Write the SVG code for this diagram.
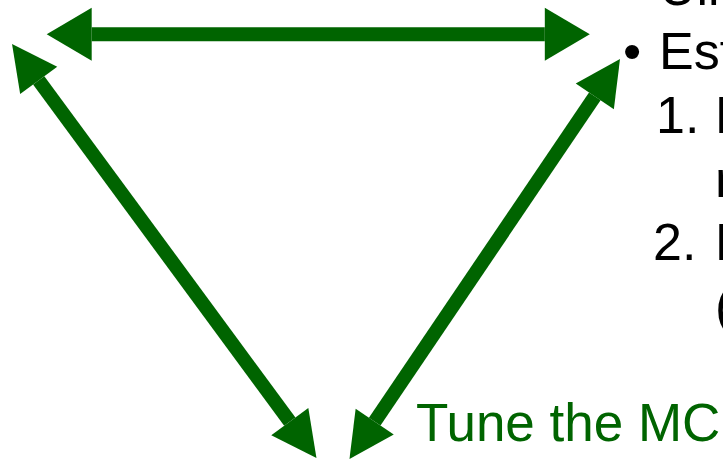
<svg xmlns="http://www.w3.org/2000/svg" width="723" height="459" viewBox="0 0 723 459">
  <style>
    .conn { stroke: #006400; stroke-width: 14; fill: none; }
    .txt { font-family: "Liberation Sans", Arial, sans-serif; font-size: 52px; fill: #000000; }
    .green { fill: #006400; font-size: 53px; }
  </style>
  <defs>
    <marker id="head" markerUnits="userSpaceOnUse" orient="auto-start-reverse" overflow="visible" markerWidth="45" markerHeight="46" refX="0" refY="0">
      <path d="M0,-23 L45,0 L0,23 Z" fill="#006400"/>
    </marker>
    <marker id="headW" markerUnits="userSpaceOnUse" orient="auto-start-reverse" overflow="visible" markerWidth="45" markerHeight="53" refX="0" refY="0">
      <path d="M0,-26.5 L45,0 L0,26.5 Z" fill="#006400"/>
    </marker>
  </defs>
  <rect width="723" height="459" fill="#ffffff"/>
  <g id="connectors">
    <line class="conn" x1="91.7" y1="34.3" x2="544.8" y2="34.3" marker-start="url(#headW)" marker-end="url(#headW)"/>
    <line class="conn" x1="38.7" y1="80.3" x2="289.8" y2="421.7" marker-start="url(#head)" marker-end="url(#head)"/>
    <line class="conn" x1="594.8" y1="96.3" x2="374.7" y2="421.7" marker-start="url(#head)" marker-end="url(#head)"/>
  </g>
  <g id="bullet-text">
    <text class="txt" x="659" y="5">Uli</text>
    <text class="txt" x="632" y="69" text-anchor="middle">•</text>
    <text class="txt" x="659" y="69">Est</text>
    <text class="txt" x="656" y="133">1.</text>
    <text class="txt" x="715" y="133">E</text>
    <text class="txt" x="715" y="197">n</text>
    <text class="txt" x="653" y="260">2.</text>
    <text class="txt" x="715" y="260">F</text>
    <text class="txt" x="715" y="324">(</text>
  </g>
  <g id="tune-label">
    <text class="txt green" x="416" y="441">Tune the MC</text>
  </g>
</svg>
